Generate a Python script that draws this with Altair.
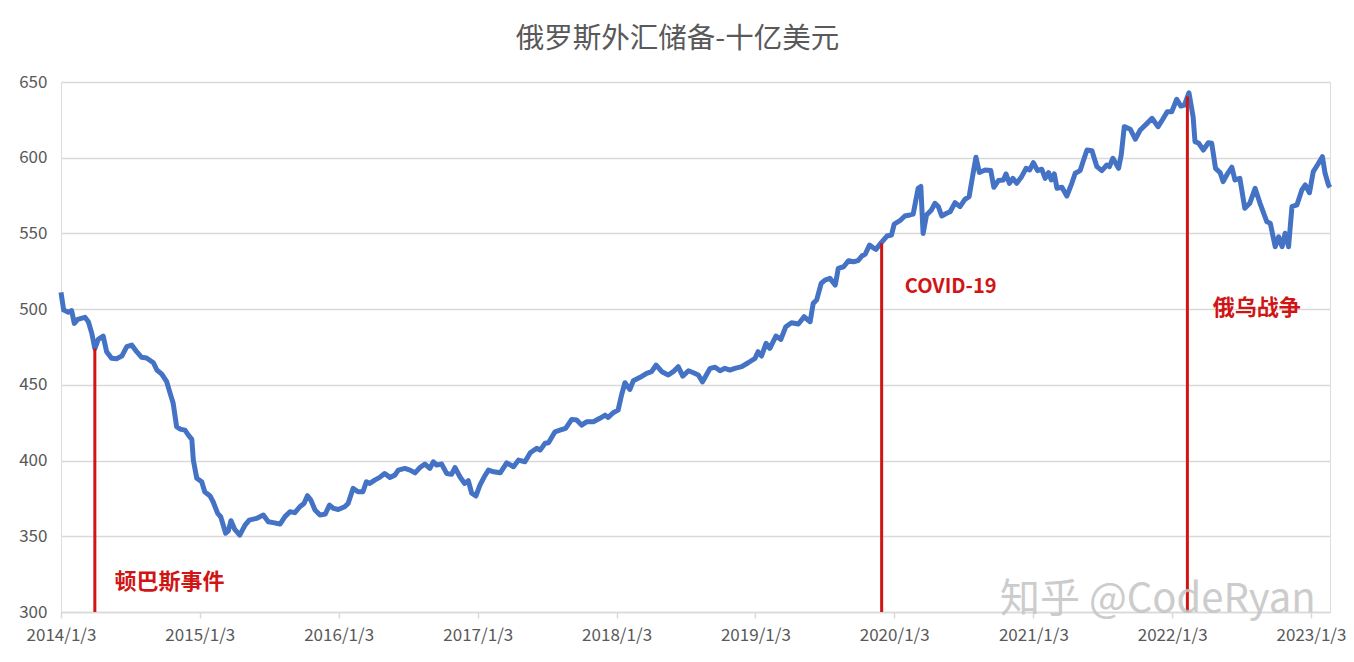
import altair as alt
import pandas as pd

dates_2014 = ["2014-01-03","2014-01-10","2014-01-22","2014-01-31","2014-02-07","2014-02-16","2014-03-07","2014-03-16","2014-03-25","2014-04-02",
              "2014-04-11","2014-04-24","2014-05-03","2014-05-16","2014-05-29","2014-06-12","2014-06-25","2014-07-08","2014-07-21","2014-08-03",
              "2014-08-16","2014-09-03","2014-09-12","2014-09-25","2014-10-08","2014-10-17","2014-10-25","2014-11-03","2014-11-12","2014-11-25",
              "2014-12-04","2014-12-13","2014-12-17","2014-12-26"]
vals_2014 = [511,499.4,498,499,490.6,493.3,494.6,491.7,484,474,
             480,482.2,471.9,467.5,467.3,469,475.2,476.3,471.9,468.2,
             467.7,464.6,459.8,457.1,452.1,444.4,437.8,422.4,420.8,420.1,
             416.8,414,400.3,388.3]

dates_2015 = ["2015-01-08","2015-01-16","2015-01-30","2015-02-07","2015-02-19","2015-02-27","2015-03-12","2015-03-19","2015-03-26","2015-04-05",
              "2015-04-18","2015-05-02","2015-05-13","2015-06-01","2015-06-19","2015-07-02","2015-07-15","2015-08-02","2015-08-15","2015-08-28",
              "2015-09-10","2015-09-23","2015-10-04","2015-10-13","2015-10-22","2015-11-02","2015-11-15","2015-11-29","2015-12-10","2015-12-21"]
vals_2015 = [386,379.4,376.6,372.8,365.1,362.9,352,353.6,360.3,354.5,
             350.8,357.4,360.7,361.8,364,359.6,359,358.1,363,366.2,
             365.6,369.5,371.7,376.8,373.9,367.3,364,364.7,370.6,368.4]

dates_2016 = ["2016-01-02","2016-01-19","2016-01-28","2016-02-10","2016-02-23","2016-03-07","2016-03-16","2016-03-25","2016-04-07","2016-04-20",
              "2016-05-03","2016-05-17","2016-05-30","2016-06-08","2016-06-25","2016-07-09","2016-07-22","2016-08-04","2016-08-17","2016-08-30",
              "2016-09-08","2016-09-17","2016-09-30","2016-10-13","2016-10-26","2016-11-04","2016-11-17","2016-11-29","2016-12-09","2016-12-18",
              "2016-12-29"]
vals_2016 = [367.7,369.5,371.7,381.6,379.4,379.4,386,384.9,387.1,388.9,
             391.5,388.9,390.4,393.7,394.8,393.7,391.9,395.4,397.7,394.8,
             399.2,397,397.7,391.5,390.9,395.4,389.3,384.9,386.7,378.4,
             376.6]

dates_2017 = ["2017-01-09","2017-01-20","2017-01-31","2017-02-14","2017-03-03","2017-03-20","2017-04-07","2017-04-20","2017-05-07","2017-05-21",
              "2017-06-07","2017-06-16","2017-06-29","2017-07-08","2017-07-25","2017-08-07","2017-08-22","2017-09-07","2017-09-20","2017-10-03",
              "2017-10-16","2017-11-03","2017-11-20","2017-12-04","2017-12-12","2017-12-25"]
vals_2017 = [383.9,389.3,393.7,392.6,391.9,398.5,395.9,400.3,399.2,405.2,
             408.1,406.9,411.4,411.8,419,420.1,421.3,427.2,426.8,423.4,
             425.6,425.6,427.9,430,428.5,431.6]

dates_2018 = ["2018-01-07","2018-01-16","2018-01-25","2018-02-07","2018-02-16","2018-03-06","2018-03-23","2018-04-05","2018-04-17","2018-05-02",
              "2018-05-19","2018-06-01","2018-06-14","2018-06-26","2018-07-11","2018-07-24","2018-08-06","2018-08-17","2018-09-06","2018-09-19",
              "2018-10-02","2018-10-15","2018-10-28","2018-11-10","2018-11-28","2018-12-15"]
vals_2018 = [433.3,443.3,451.4,447,452.7,455,457.6,458.7,463.1,458.7,
             456.5,458.7,462,455.8,459.3,458,456.5,452,460.9,461.6,
             459.3,460.9,459.8,460.9,462,464.6]

dates_2019 = ["2019-01-02","2019-01-10","2019-01-19","2019-01-31","2019-02-10","2019-02-26","2019-03-11","2019-03-24","2019-04-08","2019-04-26",
              "2019-05-11","2019-05-27","2019-06-04","2019-06-13","2019-06-25","2019-07-05","2019-07-18","2019-08-01","2019-08-09","2019-08-23",
              "2019-09-05","2019-09-18","2019-09-30","2019-10-10","2019-10-19","2019-10-30","2019-11-07","2019-11-16","2019-11-30","2019-12-15",
              "2019-12-27"]
vals_2019 = [467.5,471.9,469,477.4,474.1,482.2,480,488.4,491,490.2,
             495,491.7,503.8,506,517,519.2,520.3,515.9,526.9,528,
             532,531.3,532,535.1,536.4,542.3,540.8,539.5,543.9,548.3,
             549]

dates_2020 = ["2020-01-03","2020-01-18","2020-01-31","2020-02-13","2020-02-22","2020-03-06","2020-03-13","2020-03-19","2020-03-28","2020-04-10",
              "2020-04-19","2020-04-28","2020-05-07","2020-05-20","2020-05-29","2020-06-11","2020-06-24","2020-07-07","2020-07-18","2020-07-27",
              "2020-08-05","2020-08-14","2020-08-29","2020-09-13","2020-09-21","2020-10-03","2020-10-16","2020-10-23","2020-11-01","2020-11-10",
              "2020-11-20","2020-12-03","2020-12-15","2020-12-24"]
vals_2020 = [556.2,558.4,561.5,562.2,562.8,579.8,581,550,562.2,565.5,
             569.9,567.7,561.5,563.3,564.3,570.3,567.7,572.5,574.3,587.5,
             600.3,590.2,591.9,591.5,580.5,584.9,585.3,589.3,583.1,586.4,
             583.1,587.5,593,591.9]

dates_2021 = ["2021-01-03","2021-01-14","2021-01-25","2021-02-03","2021-02-12","2021-02-19","2021-02-27","2021-03-06","2021-03-19","2021-04-01",
              "2021-04-14","2021-04-23","2021-05-06","2021-05-15","2021-05-24","2021-06-06","2021-06-19","2021-07-02","2021-07-15","2021-07-22",
              "2021-07-31","2021-08-15","2021-08-22","2021-08-30","2021-09-15","2021-09-28","2021-10-11","2021-10-29","2021-11-11","2021-11-27",
              "2021-12-08","2021-12-21"]
vals_2021 = [596.7,591.5,592.4,586.4,590.2,585.3,589.3,579.8,580.5,574.7,
             583.1,589.7,591.5,598.5,605.1,604.6,594.1,591.5,595.2,594.1,
             599.6,593,601.8,620.5,618.8,612.2,618.3,622.7,626,620.5,
             624.9,630.4]

dates_2022 = ["2022-01-02","2022-01-15","2022-01-26","2022-02-04","2022-02-16","2022-02-27","2022-03-04","2022-03-14","2022-03-26","2022-04-08",
              "2022-04-17","2022-04-27","2022-05-09","2022-05-17","2022-05-29","2022-06-09","2022-06-17","2022-06-30","2022-07-13","2022-07-26",
              "2022-08-09","2022-08-22","2022-09-09","2022-09-18","2022-10-01","2022-10-10","2022-10-19","2022-10-27","2022-11-05","2022-11-14",
              "2022-11-27","2022-12-10","2022-12-19","2022-12-30"]
vals_2022 = [630.4,638.6,634.1,634.8,642.9,627.1,610.6,609.5,605.1,609.9,
             609.5,593,590.2,584.2,589.7,593.7,585.3,586.4,566.6,569.9,
             579.8,569.9,557.7,556.7,541.2,547.8,541.2,550.1,541.2,567.7,
             568.8,578.7,582,576.9]

dates_2023 = ["2023-01-09","2023-01-20","2023-02-02","2023-02-09","2023-02-18","2023-02-22"]
vals_2023 = [590.8,595.2,600.7,589.7,582,580.4]

event_dates = ["2014-04-02", "2019-12-01", "2022-02-12"]
event_tops = [474, 543.5, 640.5]
event_labels = ["顿巴斯事件", "COVID-19", "俄乌战争"]
label_dates = ["2014-05-24", "2020-01-31", "2022-04-20"]
label_values = [320, 514.6, 500.7]
label_sizes = [22, 20, 22]

tick_years = list(range(2014, 2024))
title_text = "俄罗斯外汇储备-十亿美元"
watermark_text = "知乎 @CodeRyan"
watermark_date = "2020-10-07"
watermark_value = 308

# ---- build tables ----
all_dates = (dates_2014 + dates_2015 + dates_2016 + dates_2017 + dates_2018 +
             dates_2019 + dates_2020 + dates_2021 + dates_2022 + dates_2023)
all_vals = (vals_2014 + vals_2015 + vals_2016 + vals_2017 + vals_2018 +
            vals_2019 + vals_2020 + vals_2021 + vals_2022 + vals_2023)
series = pd.DataFrame({"date": all_dates, "value": all_vals})
events = pd.DataFrame({"date": event_dates, "top": event_tops,
                       "base": [300] * len(event_dates)})
labels = pd.DataFrame({"date": label_dates, "value": label_values,
                       "label": event_labels, "fs": label_sizes})
wm = pd.DataFrame({"date": [watermark_date], "value": [watermark_value], "label": [watermark_text]})

FONT = "Noto Sans CJK SC"
GRID = "#D9D9D9"
TXT = "#595959"
RED = "#D01515"

x_scale = alt.Scale(type="utc",
                    domain=[alt.DateTime(year=2014, month=1, date=3, utc=True),
                            alt.DateTime(year=2023, month=2, date=22, utc=True)])
y_scale = alt.Scale(domain=[300, 650], nice=False, zero=False)

x_axis = alt.Axis(values=[alt.DateTime(year=y, month=1, date=3, utc=True) for y in tick_years],
                  labelExpr="utcFormat(datum.value, '%Y/%-m/%-d')", title=None, grid=False,
                  domainColor=GRID, domainWidth=1.5, tickColor=GRID, tickWidth=1.5,
                  tickSize=6, labelPadding=9, labelFontSize=17, labelColor=TXT,
                  labelFont=FONT, labelFlush=False, labelOverlap=False)
y_axis = alt.Axis(values=list(range(300, 651, 50)), title=None, domain=False, ticks=False,
                  grid=True, gridColor=GRID, gridWidth=1.5, labelPadding=14,
                  labelFontSize=17, labelColor=TXT, labelFont=FONT)

line = alt.Chart(series).mark_line(color="#4472C4", strokeWidth=5, strokeJoin="round").encode(
    x=alt.X("date:T", scale=x_scale, axis=x_axis),
    y=alt.Y("value:Q", scale=y_scale, axis=y_axis),
)

rules = alt.Chart(events).mark_rule(color=RED, strokeWidth=3).encode(
    x=alt.X("date:T", scale=x_scale),
    y=alt.Y("top:Q", scale=y_scale),
    y2="base:Q",
)

texts = alt.Chart(labels).mark_text(color=RED, fontWeight="bold", font=FONT,
                                    align="left", baseline="middle").encode(
    x=alt.X("date:T", scale=x_scale),
    y=alt.Y("value:Q", scale=y_scale),
    text="label:N",
    size=alt.Size("fs:Q", scale=None, legend=None),
)

water = alt.Chart(wm).mark_text(color="#C4C4C4", opacity=0.85, fontSize=40, font=FONT,
                                align="left", baseline="middle").encode(
    x=alt.X("date:T", scale=x_scale),
    y=alt.Y("value:Q", scale=y_scale),
    text="label:N",
)

chart = alt.layer(line, rules, texts, water).properties(
    width=1269, height=530,
    title=alt.TitleParams(title_text, fontSize=28.5, color=TXT, font=FONT, fontWeight="normal",
                          anchor="middle", offset=20, dx=-18),
    padding={"left": 53, "top": 74, "right": 16, "bottom": 40},
    autosize=alt.AutoSizeParams(type="none"),
).configure_view(stroke=None).configure(background="white")

chart.save("out.html", embed_options={"renderer": "svg", "actions": False})
